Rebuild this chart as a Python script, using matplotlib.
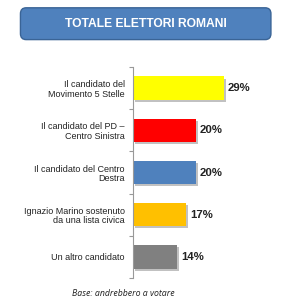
import matplotlib.pyplot as plt
import matplotlib.patheffects as pe
from matplotlib.patches import FancyBboxPatch

plt.rcParams['font.family'] = ['Liberation Sans', 'DejaVu Sans']

categorie = ["Il candidato del\nMovimento 5 Stelle",
             "Il candidato del PD –\nCentro Sinistra",
             "Il candidato del Centro\nDestra",
             "Ignazio Marino sostenuto\nda una lista civica",
             "Un altro candidato"]
valori = [29, 20, 20, 17, 14]
colori = ["#FFFF00", "#FF0000", "#4F81BD", "#FFC000", "#808080"]

fig = plt.figure(figsize=(2.84, 3.0), dpi=100)
ax = fig.add_axes([133 / 284, 1 - 278 / 300, 138 / 284, 211 / 300])

pos = list(range(len(valori)))
bars = ax.barh(pos, valori, height=0.55, color=colori, edgecolor="none")
for b in bars:
    b.set_path_effects([pe.SimplePatchShadow(offset=(1.5, -1.5), shadow_rgbFace="#999999", alpha=0.6), pe.Normal()])

for p, v in zip(pos, valori):
    ax.text(v + 1.3, p, f"{v}%", va="center", ha="left", fontsize=8.2, fontweight="bold", color="#222222")

ax.set_xlim(0, 44)
ax.set_ylim(4.5, -0.5)
ax.set_yticks(pos)
ax.set_yticklabels(categorie, fontsize=6.5, color="#222222", linespacing=1.1)
ax.set_yticks([i + 0.5 for i in range(-1, len(valori))], minor=True)
ax.tick_params(axis="y", which="major", length=0, pad=6)
ax.tick_params(axis="y", which="minor", length=3, color="#999999", width=0.8)
ax.set_xticks([])
for s in ["top", "right", "bottom"]:
    ax.spines[s].set_visible(False)
ax.spines["left"].set_color("#999999")
ax.spines["left"].set_linewidth(0.8)

# riquadro del titolo
box = FancyBboxPatch((0.072, 0.868), 0.882, 0.106, transform=fig.transFigure,
                     boxstyle="round,pad=0,rounding_size=0.02",
                     facecolor="#4F81BD", edgecolor="#3A6496", linewidth=1.0)
fig.patches.append(box)
fig.text(0.513, 0.921, "TOTALE ELETTORI ROMANI", ha="center", va="center",
         fontsize=8.7, fontweight="bold", color="white")

fig.text(0.435, 0.02, "Base: andrebbero a votare", ha="center", va="center",
         fontsize=6.3, style="italic", color="#222222", family=["Open Sans", "DejaVu Sans"])

fig.savefig("out.png", dpi=100)
